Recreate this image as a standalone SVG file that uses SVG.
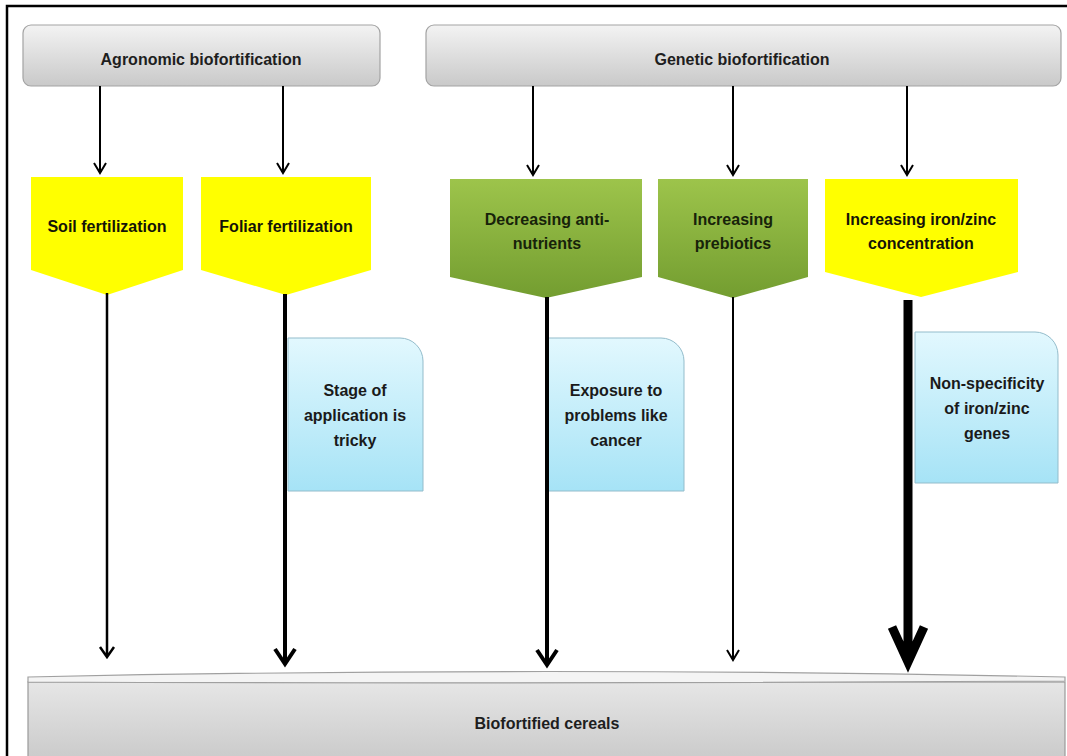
<svg xmlns="http://www.w3.org/2000/svg" width="1067" height="756" viewBox="0 0 1067 756">
  <defs>
    <linearGradient id="gGray" x1="0" y1="0" x2="0" y2="1">
      <stop offset="0" stop-color="#f3f3f3"/>
      <stop offset="1" stop-color="#c9c9c9"/>
    </linearGradient>
    <linearGradient id="gBase" x1="0" y1="0" x2="0" y2="1">
      <stop offset="0" stop-color="#e6e6e6"/>
      <stop offset="1" stop-color="#c6c6c6"/>
    </linearGradient>
    <linearGradient id="gGreen" x1="0" y1="0" x2="0" y2="1">
      <stop offset="0" stop-color="#9dc44b"/>
      <stop offset="1" stop-color="#739d30"/>
    </linearGradient>
    <linearGradient id="gBlue" x1="0" y1="0" x2="0" y2="1">
      <stop offset="0" stop-color="#e2f8fe"/>
      <stop offset="1" stop-color="#a6e3f6"/>
    </linearGradient>
    <style>
      text { font-family: "Liberation Sans", Arial, sans-serif; font-weight: bold; font-size: 16px; text-anchor: middle; }
      .gray { fill: url(#gGray); stroke: #a3a3a3; stroke-width: 1.2; }
      .yellow { fill: #ffff00; }
      .green { fill: url(#gGreen); }
      .blue { fill: url(#gBlue); stroke: #93bccb; stroke-width: 1; }
      .tg { fill: #1e1e1e; }
      .ty { fill: #141408; }
      .tgr { fill: #17230a; }
      .tb { fill: #1a1a1a; }
      .ln { stroke: #000; fill: none; stroke-linejoin: miter; }
    </style>
  </defs>

  <rect x="0" y="0" width="1067" height="756" fill="#ffffff"/>
  <rect id="frame" x="7" y="6" width="1080" height="780" fill="none" stroke="#000" stroke-width="2.5"/>

  <g id="agronomic">
    <rect class="gray" x="23" y="25" width="357" height="61" rx="8"/>
    <text class="tg" x="201" y="65">Agronomic biofortification</text>
  </g>
  <g id="genetic">
    <rect class="gray" x="426" y="25" width="635" height="61" rx="8"/>
    <text class="tg" x="742" y="65">Genetic biofortification</text>
  </g>

  <g id="soil">
    <path class="yellow" d="M31,177 H183 V270 L107,295 L31,270 Z"/>
    <text class="ty" x="107" y="232">Soil fertilization</text>
  </g>
  <g id="foliar">
    <path class="yellow" d="M201,177 H371 V270 L286,295 L201,270 Z"/>
    <text class="ty" x="286" y="232">Foliar fertilization</text>
  </g>
  <g id="antinutrients">
    <path class="green" d="M450,179 H642 V277 L546,298 L450,277 Z"/>
    <text class="tgr" x="547" y="225">Decreasing anti-</text>
    <text class="tgr" x="547" y="249">nutrients</text>
  </g>
  <g id="prebiotics">
    <path class="green" d="M658,179 H808 V277 L733,298 L658,277 Z"/>
    <text class="tgr" x="733" y="225">Increasing</text>
    <text class="tgr" x="733" y="249">prebiotics</text>
  </g>
  <g id="ironzinc">
    <path class="yellow" d="M825,179 H1018 V272 L921,297 L825,272 Z"/>
    <text class="ty" x="921" y="225">Increasing iron/zinc</text>
    <text class="ty" x="921" y="249">concentration</text>
  </g>

  <g id="note-stage">
    <path class="blue" d="M288,338 H400 A23,23 0 0 1 423,361 V491 H288 Z"/>
    <text class="tb" x="355" y="396">Stage of</text>
    <text class="tb" x="355" y="421">application is</text>
    <text class="tb" x="355" y="446">tricky</text>
  </g>
  <g id="note-cancer">
    <path class="blue" d="M548,338 H661 A23,23 0 0 1 684,361 V491 H548 Z"/>
    <text class="tb" x="616" y="396">Exposure to</text>
    <text class="tb" x="616" y="421">problems like</text>
    <text class="tb" x="616" y="446">cancer</text>
  </g>
  <g id="note-genes">
    <path class="blue" d="M915,332 H1035 A23,23 0 0 1 1058,355 V483 H915 Z"/>
    <text class="tb" x="987" y="389">Non-specificity</text>
    <text class="tb" x="987" y="414">of iron/zinc</text>
    <text class="tb" x="987" y="439">genes</text>
  </g>

  <g id="cereals">
    <rect x="28" y="682" width="1037" height="90" fill="url(#gBase)" stroke="#9a9a9a" stroke-width="1.2"/>
    <path d="M28,677 Q546,666 1065,677 L1065,681 Q546,684 28,682 Z" fill="#f4f4f4" stroke="#a0a0a0" stroke-width="1.2"/>
    <text class="tg" x="547" y="729">Biofortified cereals</text>
  </g>

  <g id="connectors">
    <path class="ln" stroke-width="2" d="M100,86 V173 M94,163 L100,173 L106,163"/>
    <path class="ln" stroke-width="2" d="M283,86 V173 M277,163 L283,173 L289,163"/>
    <path class="ln" stroke-width="2" d="M533,86 V175 M527,165 L533,175 L539,165"/>
    <path class="ln" stroke-width="2" d="M733,86 V175 M727,165 L733,175 L739,165"/>
    <path class="ln" stroke-width="2" d="M907,86 V175 M901,165 L907,175 L913,165"/>
    <path class="ln" stroke-width="2.5" d="M107,293 V657 M100,647 L107,657 L114,647"/>
    <path class="ln" stroke-width="4" d="M285,294 V664 M275,649 L285,664 L295,649"/>
    <path class="ln" stroke-width="4" d="M547,297 V665 M537,650 L547,665 L557,650"/>
    <path class="ln" stroke-width="2" d="M733,297 V660 M727,650 L733,660 L739,650"/>
    <path class="ln" stroke-width="9" d="M908,300 V660 M892,627 L908,662 L924,627"/>
  </g>
</svg>
